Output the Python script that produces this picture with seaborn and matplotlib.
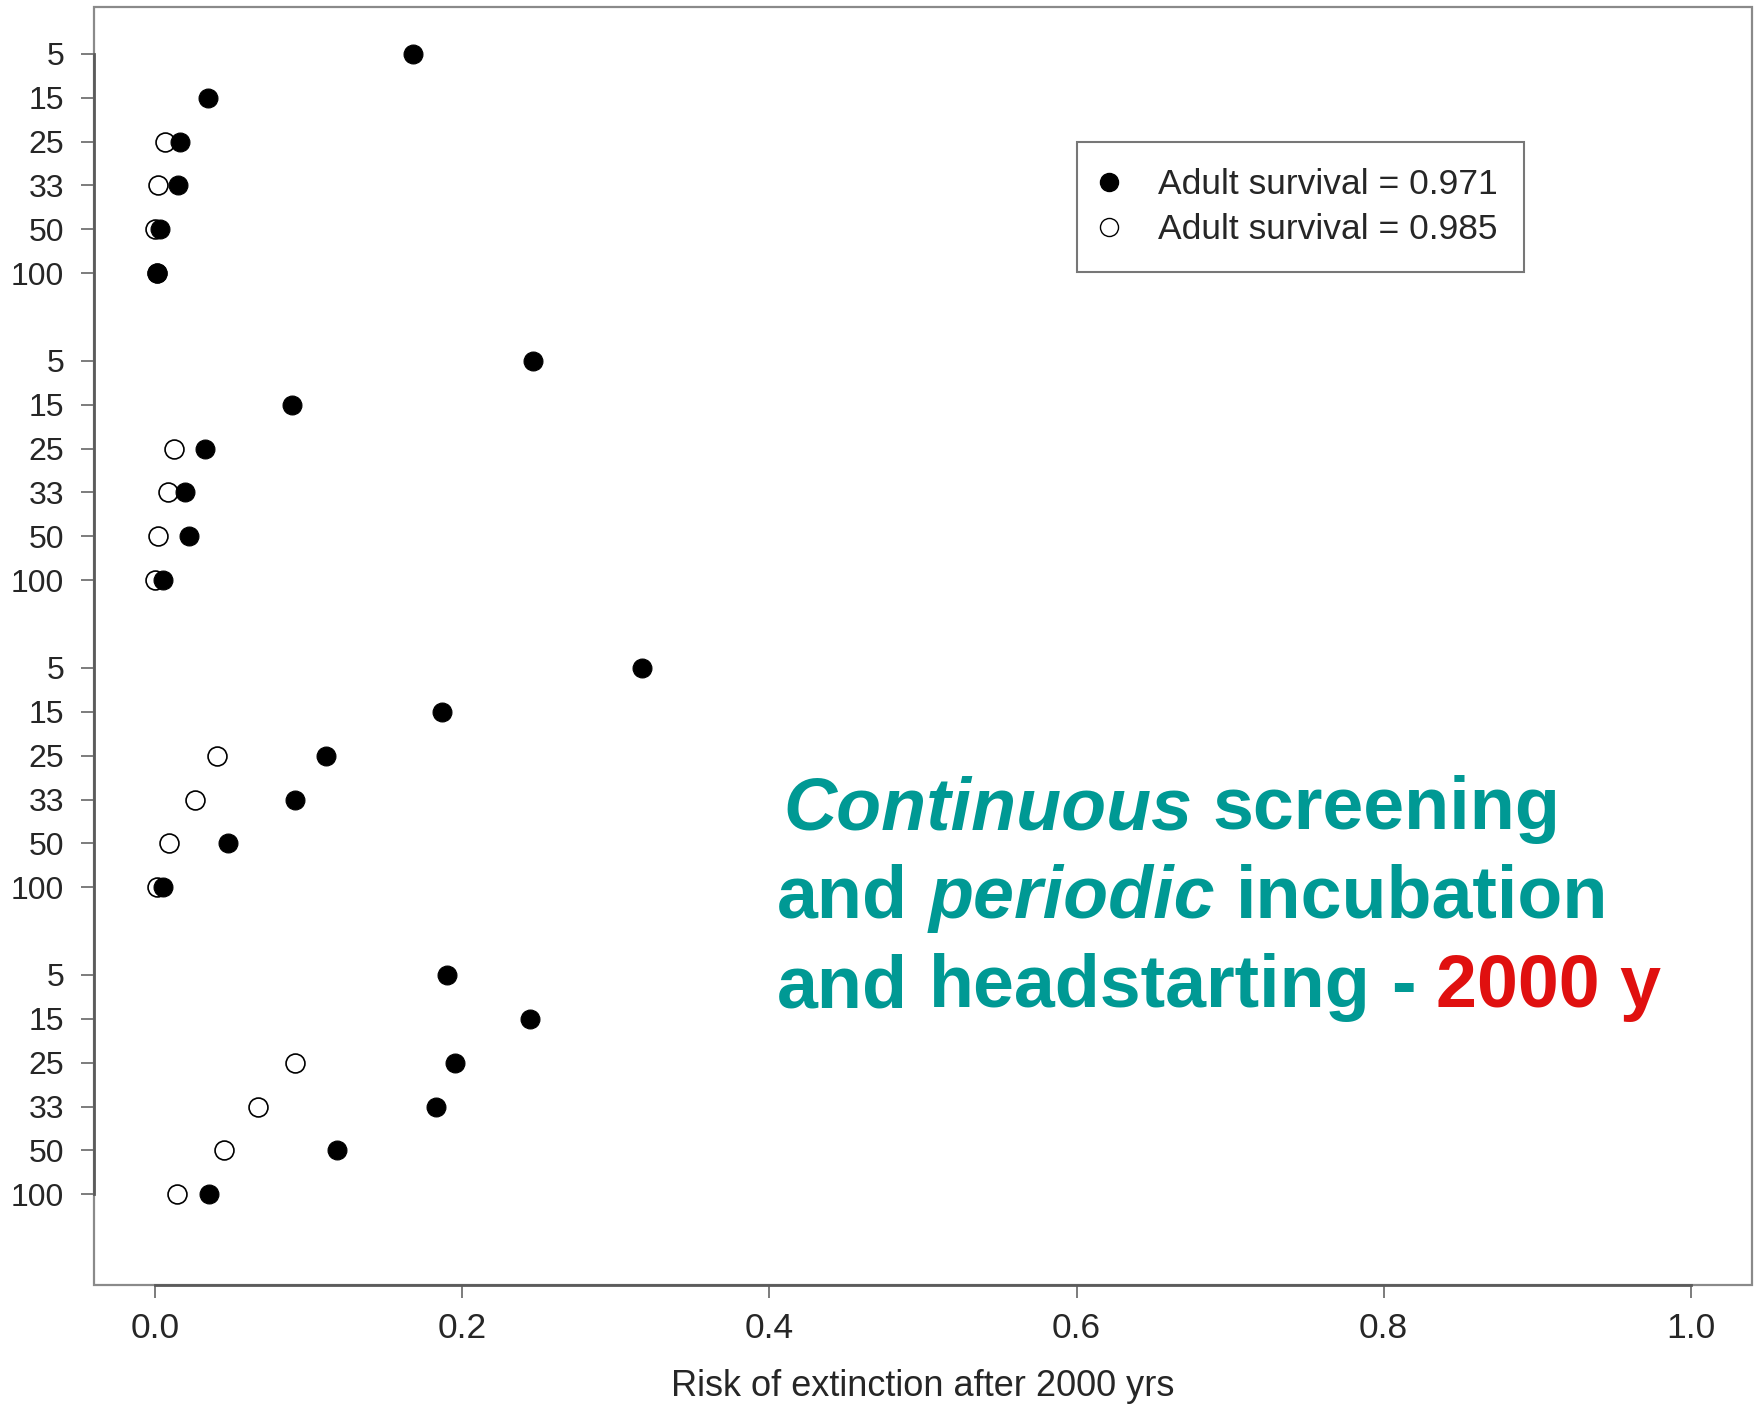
import matplotlib
matplotlib.use("Agg")
import numpy as np
import pandas as pd
import matplotlib.pyplot as plt
from matplotlib.lines import Line2D
from matplotlib.patches import Rectangle
import seaborn as sns

# Release size classes (repeated in each of the four scenario blocks)
levels = [5, 15, 25, 33, 50, 100]
blocks = [1, 2, 3, 4]

# Risk of extinction after 2000 yrs, adult survival = 0.971 (filled)
risk_971_b1 = [0.168, 0.034, 0.016, 0.015, 0.003, 0.001]
risk_971_b2 = [0.246, 0.089, 0.032, 0.019, 0.022, 0.005]
risk_971_b3 = [0.317, 0.187, 0.111, 0.091, 0.047, 0.005]
risk_971_b4 = [0.190, 0.244, 0.195, 0.183, 0.118, 0.035]

# Risk of extinction after 2000 yrs, adult survival = 0.985 (open)
risk_985_b1 = [np.nan, np.nan, 0.006, 0.002, 0.000, 0.001]
risk_985_b2 = [np.nan, np.nan, 0.012, 0.008, 0.002, 0.000]
risk_985_b3 = [np.nan, np.nan, 0.040, 0.026, 0.009, 0.001]
risk_985_b4 = [np.nan, np.nan, 0.091, 0.067, 0.045, 0.014]

labels = ["Adult survival = 0.971", "Adult survival = 0.985"]
xticks = [0.0, 0.2, 0.4, 0.6, 0.8, 1.0]
xlabel = "Risk of extinction after 2000 yrs"

rows = []
for b, r1, r2 in zip(blocks,
                     [risk_971_b1, risk_971_b2, risk_971_b3, risk_971_b4],
                     [risk_985_b1, risk_985_b2, risk_985_b3, risk_985_b4]):
    for i, lev in enumerate(levels):
        # one blank line separates consecutive blocks
        pos = (b - 1) * (len(levels) + 1) + i
        rows.append(dict(block=b, level=lev, pos=pos, risk=r1[i], series=labels[0]))
        rows.append(dict(block=b, level=lev, pos=pos, risk=r2[i], series=labels[1]))
df = pd.DataFrame(rows)

sns.set_style("white")
plt.rcParams["font.family"] = ["Liberation Sans", "DejaVu Sans"]

W, H = 1760, 1405
fig = plt.figure(figsize=(W / 100, H / 100), dpi=100)
ax = fig.add_axes([94 / W, 1 - 1285 / H, (1752 - 94) / W, (1285 - 7) / H])

d_open = df[df.series == labels[1]].dropna()
d_fill = df[df.series == labels[0]].dropna()
sns.scatterplot(data=d_open, x="risk", y="pos", ax=ax, marker="o", s=185,
                color="white", edgecolor="black", linewidth=1.2, legend=False, zorder=3)
sns.scatterplot(data=d_fill, x="risk", y="pos", ax=ax, marker="o", s=185,
                color="black", edgecolor="black", linewidth=0.8, legend=False, zorder=4)

ax.set_xlim(-0.04, 1.04)
ax.set_ylim(28.07, -1.07)

ypos = df.drop_duplicates("pos").sort_values("pos")
ax.set_yticks(ypos["pos"].to_numpy())
ax.set_yticklabels([str(v) for v in ypos["level"]])
ax.set_xticks(xticks)
ax.set_xticklabels([f"{v:.1f}" for v in xticks])
ax.tick_params(axis="y", labelsize=23, length=9.5, width=1.2, color="#666666", pad=12, left=True)
ax.tick_params(axis="x", labelsize=25.5, length=9.5, width=1.2, color="#666666", pad=10, bottom=True)
ax.set_ylabel("")
ax.set_xlabel(xlabel, fontsize=26)
ax.xaxis.set_label_coords(0.5, -0.087)
ax.xaxis.label.set_va("baseline")

# plot box plus darker axis lines spanning the tick range
ax.add_patch(Rectangle((0, 0), 1, 1, transform=ax.transAxes, fill=False,
                       edgecolor="#8a8a8a", linewidth=1.6, clip_on=False, zorder=5))
for side in ["top", "right"]:
    ax.spines[side].set_visible(False)
ax.spines["bottom"].set_bounds(xticks[0], xticks[-1])
ax.spines["left"].set_bounds(ypos["pos"].min(), ypos["pos"].max())
for side in ["bottom", "left"]:
    ax.spines[side].set_color("#5a5a5a")
    ax.spines[side].set_linewidth(2.0)
    ax.spines[side].set_zorder(6)

handles = [
    Line2D([], [], ls="none", marker="o", markersize=13, markerfacecolor="black",
           markeredgecolor="black"),
    Line2D([], [], ls="none", marker="o", markersize=13, markerfacecolor="white",
           markeredgecolor="black", markeredgewidth=1.0),
]
leg = ax.legend(handles, labels, loc="upper left",
                bbox_to_anchor=(1077 / W, 1 - 142 / H), bbox_transform=fig.transFigure,
                fontsize=25.5, frameon=True, fancybox=False, borderpad=0.74,
                labelspacing=0.33, handlelength=0.3, handletextpad=1.25,
                borderaxespad=0)
leg.get_frame().set_edgecolor("#555555")
leg.get_frame().set_linewidth(1.5)

# annotation block with mixed styles
teal = "#009994"
red = "#e0100f"
fs = 53
space_px = 0.278 * fs * 100 / 72
renderer = fig.canvas.get_renderer()


def put_line(pieces, x_px, base_px):
    x = x_px
    for txt, style, color in pieces:
        t = fig.text(x / W, 1 - base_px / H, txt, fontsize=fs, fontweight="bold",
                     fontstyle=style, color=color, va="baseline", ha="left")
        bb = t.get_window_extent(renderer)
        x = bb.x1 + space_px


put_line([("Continuous", "italic", teal), ("screening", "normal", teal)], 783, 829)
put_line([("and", "normal", teal), ("periodic", "italic", teal),
          ("incubation", "normal", teal)], 777, 918)
put_line([("and", "normal", teal), ("headstarting", "normal", teal),
          ("-", "normal", teal), ("2000 y", "normal", red)], 777, 1007)

fig.savefig("out.png", dpi=100, facecolor="white")
